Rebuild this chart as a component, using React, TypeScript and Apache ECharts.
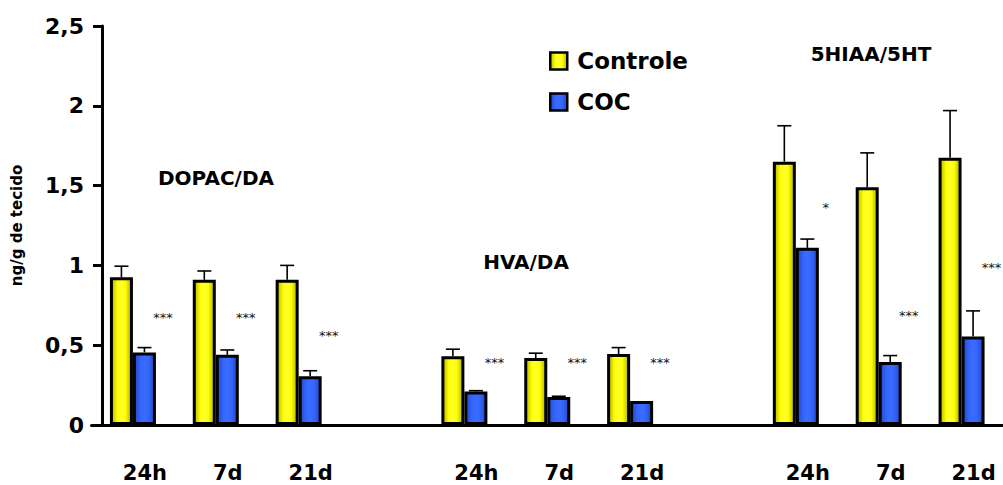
import React, { useEffect, useRef } from 'react';
import * as echarts from 'echarts';

const categories = ['24h', '7d', '21d', '', '24h', '7d', '21d', '', '24h', '7d', '21d'];
const controle = [0.925, 0.91, 0.91, null, 0.43, 0.42, 0.445, null, 1.65, 1.49, 1.675];
const controleErr = [0.07, 0.055, 0.09, null, 0.045, 0.03, 0.04, null, 0.225, 0.215, 0.295];
const coc = [0.455, 0.44, 0.305, null, 0.21, 0.175, 0.15, null, 1.11, 0.395, 0.555];
const cocErr = [0.03, 0.03, 0.035, null, 0.005, 0.005, 0, null, 0.055, 0.04, 0.16];
const starText = ['***', '***', '***', '', '***', '***', '***', '', '*', '***', '***'];
const starLevel = [0.69, 0.69, 0.575, null, 0.405, 0.405, 0.405, null, 1.38, 0.7, 1.0];
const groupTitles = ['DOPAC/DA', 'HVA/DA', '5HIAA/5HT'];
const seriesNames = ['Controle', 'COC'];
const yAxisName = 'ng/g de tecido';

const FONT = 'DejaVu Sans';
const BAR_W = 23;

const yellowGrad = new echarts.graphic.LinearGradient(0, 0, 1, 0, [
  { offset: 0, color: '#B5B500' },
  { offset: 0.3, color: '#FFFF00' },
  { offset: 0.5, color: '#FFFF30' },
  { offset: 0.7, color: '#FFFF00' },
  { offset: 1, color: '#B0B000' },
]);
const blueGrad = new echarts.graphic.LinearGradient(0, 0, 1, 0, [
  { offset: 0, color: '#2447C0' },
  { offset: 0.3, color: '#3366FF' },
  { offset: 0.5, color: '#3A6CFF' },
  { offset: 0.7, color: '#3366FF' },
  { offset: 1, color: '#2447C0' },
]);

function errorSeries(vals: (number | null)[], errs: (number | null)[], side: number) {
  const data: any[] = [];
  vals.forEach((v, i) => {
    if (v != null) data.push([i, v, errs[i] || 0]);
  });
  return {
    type: 'custom',
    z: 1,
    silent: true,
    encode: { x: 0, y: 1 },
    data,
    renderItem: (params: any, api: any) => {
      const idx = api.value(0);
      const v = api.value(1);
      const e = api.value(2);
      if (!e) return null;
      const base = api.coord([idx, v]);
      const top = api.coord([idx, v + e]);
      const x = base[0] + side * (BAR_W / 2);
      return {
        type: 'group',
        children: [
          { type: 'line', shape: { x1: x, y1: base[1], x2: x, y2: top[1] }, style: { stroke: '#000', lineWidth: 1.6 } },
          { type: 'line', shape: { x1: x - 7, y1: top[1], x2: x + 7, y2: top[1] }, style: { stroke: '#000', lineWidth: 1.6 } },
        ],
      };
    },
  };
}

function starSeries() {
  const data: any[] = [];
  starLevel.forEach((v, i) => {
    if (v != null) data.push([i, v]);
  });
  return {
    type: 'custom',
    z: 3,
    silent: true,
    encode: { x: 0, y: 1 },
    data,
    renderItem: (params: any, api: any) => {
      const idx = api.value(0);
      const p = api.coord([idx, api.value(1)]);
      return {
        type: 'text',
        x: p[0] + 30,
        y: p[1] + 2.5,
        style: {
          text: starText[idx],
          fontFamily: FONT,
          fontSize: 13,
          fill: '#111',
          align: 'center',
          verticalAlign: 'middle',
        },
      };
    },
  };
}

export default function App() {
  const ref = useRef<HTMLDivElement>(null);
  useEffect(() => {
    document.body.style.margin = '0';
    const chart = echarts.init(ref.current!, null, { renderer: 'svg' });
    const option: any = {
      animation: false,
      backgroundColor: '#fff',
      textStyle: { fontFamily: FONT },
      grid: { left: 91.5, right: 0, top: 26, bottom: 60, containLabel: false },
      legend: {
        data: seriesNames,
        orient: 'vertical',
        left: 549,
        top: 49.5,
        padding: 0,
        itemWidth: 17,
        itemHeight: 17,
        itemGap: 18,
        icon: 'rect',
        itemStyle: { borderColor: '#000', borderWidth: 2.5 },
        textStyle: { fontFamily: FONT, fontSize: 23, fontWeight: 'bold', color: '#000', lineHeight: 23, padding: [0, 0, 0, 5] },
      },
      xAxis: {
        type: 'category',
        data: categories,
        axisLine: { lineStyle: { color: '#000', width: 3 } },
        axisTick: { show: false },
        axisLabel: {
          margin: 37,
          fontFamily: FONT,
          fontSize: 21,
          fontWeight: 'bold',
          color: '#000',
          padding: [0, 0, 0, 24],
          interval: 0,
        },
      },
      yAxis: {
        type: 'value',
        min: 0,
        max: 2.5,
        interval: 0.5,
        offset: -10.5,
        name: yAxisName,
        nameLocation: 'middle',
        nameRotate: 90,
        nameGap: 78,
        nameTextStyle: { fontFamily: FONT, fontSize: 15, fontWeight: 'bold', color: '#000' },
        axisLine: { show: true, lineStyle: { color: '#000', width: 3 } },
        axisTick: { show: true, inside: false, length: 9, lineStyle: { color: '#000', width: 3 } },
        splitLine: { show: false },
        axisLabel: {
          margin: 18,
          fontFamily: FONT,
          fontSize: 22,
          fontWeight: 'bold',
          color: '#000',
          formatter: (v: number) => String(v).replace('.', ','),
        },
      },
      series: [
        {
          name: seriesNames[0],
          type: 'bar',
          z: 2,
          barWidth: BAR_W,
          barGap: '0%',
          data: controle.map((v) => (v == null ? '-' : v)),
          itemStyle: { color: yellowGrad, borderColor: '#000', borderWidth: 3 },
        },
        {
          name: seriesNames[1],
          type: 'bar',
          z: 2,
          barWidth: BAR_W,
          barGap: '0%',
          data: coc.map((v) => (v == null ? '-' : v)),
          itemStyle: { color: blueGrad, borderColor: '#000', borderWidth: 3 },
        },
        errorSeries(controle, controleErr, -1),
        errorSeries(coc, cocErr, 1),
        starSeries(),
      ],
      graphic: [
        { type: 'text', x: 216, y: 177.5, style: { text: groupTitles[0], fontFamily: FONT, fontSize: 20, fontWeight: 'bold', fill: '#000', align: 'center', verticalAlign: 'middle' } },
        { type: 'text', x: 526, y: 262, style: { text: groupTitles[1], fontFamily: FONT, fontSize: 20, fontWeight: 'bold', fill: '#000', align: 'center', verticalAlign: 'middle' } },
        { type: 'text', x: 871, y: 54, style: { text: groupTitles[2], fontFamily: FONT, fontSize: 20, fontWeight: 'bold', fill: '#000', align: 'center', verticalAlign: 'middle' } },
      ],
    };
    chart.setOption(option);
    return () => chart.dispose();
  }, []);
  return <div ref={ref} style={{ position: 'absolute', left: 0, top: 0, width: 1003, height: 485 }} />;
}
